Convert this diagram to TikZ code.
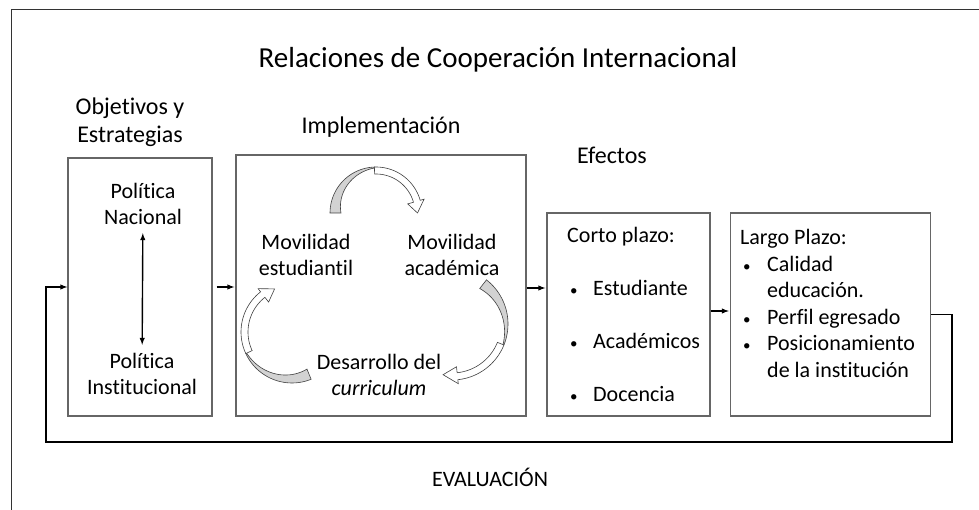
\documentclass[tikz,border=0pt]{standalone}
\usepackage{fontspec}
\setmainfont{Carlito}[Ligatures = NoCommon]
\usetikzlibrary{arrows}
\usetikzlibrary{calc}

\newcommand{\dotitem}{{\fontsize{15}{15}\selectfont\textbullet}}

% curved block arrow: centre x, centre y, radius, tail angle, twist angle, head angle
\newcommand{\cyclearrow}[6]{%
  \filldraw[fill = gray!35, draw = black!75, line width = 0.6pt]
    plot[domain = #4:#5, samples = 25] ({#1+(#3+5)*cos(\x)}, {#2+(#3+5)*sin(\x)})
    -- plot[domain = #5:#4, samples = 25]
      ({#1+(#3-6+10*(\x-(#4))/((#5)-(#4)))*cos(\x)}, {#2+(#3-6+10*(\x-(#4))/((#5)-(#4)))*sin(\x)})
    -- cycle;
  \filldraw[fill = white, draw = black!75, line width = 0.6pt]
    plot[domain = #5:#6, samples = 25] ({#1+(#3+5)*cos(\x)}, {#2+(#3+5)*sin(\x)})
    -- ({#1+(#3+9)*cos(#6)}, {#2+(#3+9)*sin(#6)})
    -- ({#1+(#3+0.5)*cos(#6+16)}, {#2+(#3+0.5)*sin(#6+16)})
    -- ({#1+(#3-8)*cos(#6)}, {#2+(#3-8)*sin(#6)})
    -- plot[domain = #6:#5, samples = 25] ({#1+(#3-2)*cos(\x)}, {#2+(#3-2)*sin(\x)})
    -- cycle;
}

\begin{document}
\begin{tikzpicture}[
    >=latex,
    x = 1pt, y = -1pt,
    box/.style = {
        draw = black!60, line width = 1.3pt, rectangle
    },
    txt/.style = {
        font = \fontsize{22}{26.5}\selectfont, align = center, inner sep = 0pt
    },
    heading/.style = {
        font = \fontsize{24}{28}\selectfont, align = center, inner sep = 0pt
    },
    link/.style = {
        black, line width = 1.4pt, ->
    },
  ]
  \useasboundingbox (0,0) rectangle (979,510);

  % frame
  \draw[black!80, line width = 1pt] (11,510) -- (11,10) -- (979,10);

  \node[font = \fontsize{29}{34}\selectfont, inner sep = 0pt] (titulo) at (498,60)
    {Relaciones de Cooperación Internacional};

  \node[heading] (objhead) at (130,122) {Objetivos y\\Estrategias};
  \node[heading] (imphead) at (381,127) {Implementación};
  \node[heading] (efehead) at (612,155) {Efectos};

  % boxes
  \node[box, minimum width = 144pt, minimum height = 258pt] (objetivos) at (140,287) {};
  \node[box, minimum width = 290pt, minimum height = 261pt] (implementacion) at (381,285.5) {};
  \node[box, minimum width = 163pt, minimum height = 203pt] (corto) at (628.5,314.5) {};
  \node[box, minimum width = 200pt, minimum height = 203pt] (largo) at (830.5,314.5) {};

  % objetivos
  \node[txt] (nacional) at (143,204) {Política\\Nacional};
  \node[txt] (institucional) at (142,374) {Política\\Institucional};
  \draw[black, line width = 1.4pt, <->, shorten <= 8pt, shorten >= 8pt]
    (nacional) -- (institucional);

  % implementacion
  \node[txt] (estudiantil) at (306,255) {Movilidad\\estudiantil};
  \node[txt] (academica) at (452,255) {Movilidad\\académica};
  \node[txt] (curriculum) at (379,375) {Desarrollo del\\\textit{curriculum}};
  \cyclearrow{376}{213}{41}{180}{268}{344}
  \cyclearrow{452}{324}{51}{-52}{22}{84}
  \cyclearrow{292}{332}{46}{68}{155}{232}

  % efectos
  \node[txt, align = left, anchor = west] (cortotxt) at (567,314)
    {Corto plazo:\\[26.5pt]
     \hspace*{3pt}\makebox[23pt][l]{\dotitem}Estudiante\\[26.5pt]
     \hspace*{3pt}\makebox[23pt][l]{\dotitem}Académicos\\[26.5pt]
     \hspace*{3pt}\makebox[23pt][l]{\dotitem}Docencia};
  \node[txt, align = left, anchor = west] (largotxt) at (740,303.5)
    {Largo Plazo:\\
     \hspace*{3pt}\makebox[24pt][l]{\dotitem}Calidad\\
     \hspace*{27pt}educación.\\
     \hspace*{3pt}\makebox[24pt][l]{\dotitem}Perfil egresado\\
     \hspace*{3pt}\makebox[24pt][l]{\dotitem}Posicionamiento\\
     \hspace*{27pt}de la institución};

  % connectors
  \draw[link, shorten <= 4pt, shorten >= 1pt] (objetivos.east) -- (implementacion.west |- objetivos.east);
  \draw[link, shorten >= 1pt] (implementacion.east |- 0,288) -- (corto.west |- 0,288);
  \draw[link, shorten >= 1pt] (corto.east |- 0,311) -- (largo.west |- 0,311);

  \coordinate (evalR) at (952,442);
  \coordinate (evalL) at (46,442);
  \draw[link] (largo.east) -| (evalR) -- (evalL) |- (objetivos.west);

  \node[txt] (evaluacion) at (490,477) {EVALUACIÓN};
\end{tikzpicture}
\end{document}
